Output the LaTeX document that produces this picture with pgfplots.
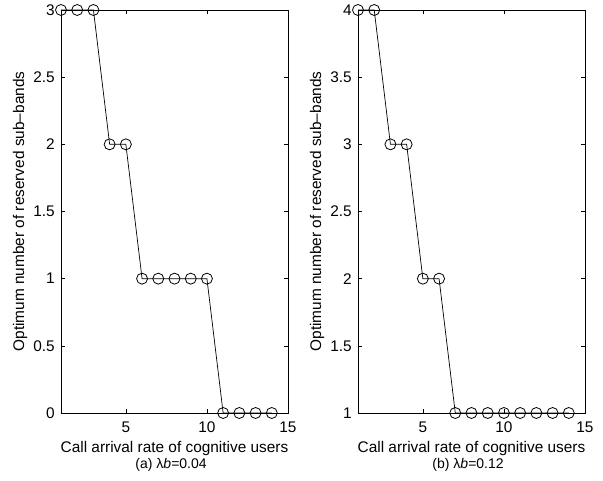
\documentclass[border=0pt]{standalone}
\usepackage{fontspec}
\setmainfont{Liberation Sans}
\usepackage{pgfplots}
\pgfplotsset{compat=1.18}
\begin{document}
\fontsize{15.4}{17}\selectfont
\begin{tikzpicture}
\path[use as bounding box] (-61pt,-68pt) rectangle (542pt,413pt);
\pgfplotsset{
  myax/.style={
    scale only axis, width=227pt, height=403pt,
    xmin=1, xmax=15, xtick={5,10,15},
    tick align=inside, major tick length=4pt,
    tick style={black, line width=0.6pt},
    axis line style={line width=0.9pt},
    /pgf/number format/assume math mode=true,
    ticklabel style={font=\fontsize{15.4}{17}\selectfont},
    xticklabel style={anchor=base, yshift=-20pt, inner sep=0pt},
    yticklabel style={inner sep=0pt, xshift=-6pt},
    label style={font=\fontsize{15.4}{17}\selectfont},
    xlabel={Call arrival rate of cognitive users},
    ylabel={Optimum number of reserved sub–bands},
    xlabel style={at={(axis description cs:0.5,-0.0968)}, anchor=base, inner sep=0pt},
    ylabel style={at={(axis description cs:-0.18,0.5)}, anchor=center, inner sep=0pt},
    clip=false,
  },
  myplot/.style={black, line width=0.7pt, mark=o, mark size=5.5pt, mark options={line width=0.8pt, solid}},
}
\begin{axis}[myax, at={(0pt,0pt)}, anchor=south west,
  ymin=0, ymax=3, ytick={0,0.5,1,1.5,2,2.5,3},
  yticklabels={0,0.5,1,1.5,2,2.5,3}]
\addplot[myplot] coordinates {(1,3)(2,3)(3,3)(4,2)(5,2)(6,1)(7,1)(8,1)(9,1)(10,1)(11,0)(12,0)(13,0)(14,0)};
\node[anchor=base, inner sep=0pt, font=\fontsize{14}{16}\selectfont] at (axis description cs:0.485,-0.1365) {(a) λ\textit{b}=0.04};
\end{axis}
\begin{axis}[myax, at={(297pt,0pt)}, anchor=south west,
  ymin=1, ymax=4, ytick={1,1.5,2,2.5,3,3.5,4},
  yticklabels={1,1.5,2,2.5,3,3.5,4}]
\addplot[myplot] coordinates {(1,4)(2,4)(3,3)(4,3)(5,2)(6,2)(7,1)(8,1)(9,1)(10,1)(11,1)(12,1)(13,1)(14,1)};
\node[anchor=base, inner sep=0pt, font=\fontsize{14}{16}\selectfont] at (axis description cs:0.485,-0.1365) {(b) λ\textit{b}=0.12};
\end{axis}
\end{tikzpicture}
\end{document}
